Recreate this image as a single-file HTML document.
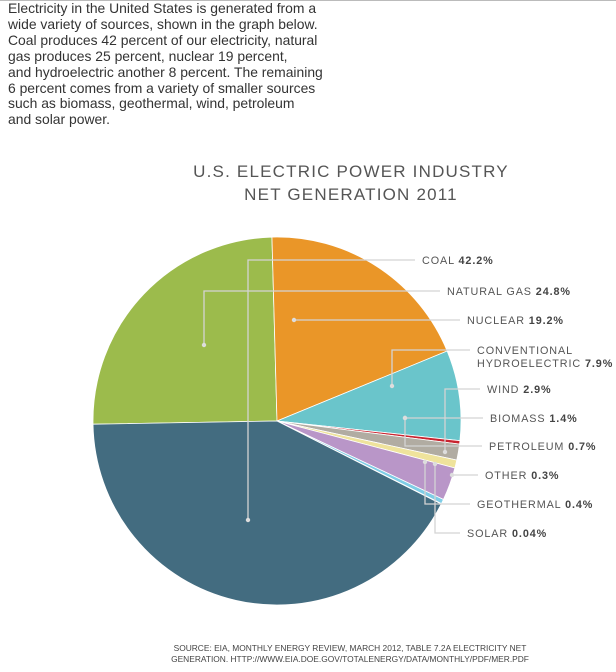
<!DOCTYPE html>
<html><head><meta charset="utf-8"><style>
body{margin:0;background:#fff;width:616px;height:672px;overflow:hidden;font-family:"Liberation Sans",sans-serif;}
#intro{position:absolute;left:8px;top:1px;font-size:13.9px;line-height:15.9px;color:#333;margin:0;}
#topline{position:absolute;left:0;top:0;width:616px;height:1px;background:#bbb;}
</style></head><body>
<div id="topline"></div>
<p id="intro">Electricity in the United States is generated from a<br>wide variety of sources, shown in the graph below.<br>Coal produces 42 percent of our electricity, natural<br>gas produces 25 percent, nuclear 19 percent,<br>and hydroelectric another 8 percent. The remaining<br>6 percent comes from a variety of smaller sources<br>such as biomass, geothermal, wind, petroleum<br>and solar power.</p>
<svg id="chart" width="616" height="672" style="position:absolute;left:0;top:0">
<text x="351" y="177" text-anchor="middle" font-size="17" fill="#555" letter-spacing="1.2">U.S. ELECTRIC POWER INDUSTRY</text>
<text x="351" y="200" text-anchor="middle" font-size="17" fill="#555" letter-spacing="1.2">NET GENERATION 2011</text>
<g id="slices"></g><g id="leaders"></g><g id="labels"></g>
<text x="350" y="651" text-anchor="middle" font-size="8.4" fill="#444">SOURCE: EIA, MONTHLY ENERGY REVIEW, MARCH 2012, TABLE 7.2A ELECTRICITY NET</text>
<text x="350" y="662" text-anchor="middle" font-size="8.4" fill="#444">GENERATION. HTTP://WWW.EIA.DOE.GOV/TOTALENERGY/DATA/MONTHLY/PDF/MER.PDF</text>
</svg>
<script>
const categories=["NATURAL GAS","NUCLEAR","CONVENTIONAL HYDROELECTRIC","OTHER","BIOMASS","PETROLEUM","WIND","GEOTHERMAL","SOLAR","COAL"];
const values=[24.8,19.2,7.9,0.3,1.4,0.7,2.9,0.4,0.04,42.2];
const valueLabels=["24.8%","19.2%","7.9%","0.3%","1.4%","0.7%","2.9%","0.4%","0.04%","42.2%"];
const colors=["#9cbb4c","#ea9628","#6ac5cb","#c8242f","#b1aca2","#efe39c","#b996c8","#7fcde6","#2c9fd4","#436c80"];
const cx=277,cy=421,r=184,startDeg=179;
const NS="http://www.w3.org/2000/svg";
const total=values.reduce((a,b)=>a+b,0);
function ang(v){return v/total*360;}
function pt(deg,rr){const a=deg*Math.PI/180;return [cx+rr*Math.cos(a),cy+rr*Math.sin(a)];}
const sg=document.getElementById('slices');
let a0=startDeg;
values.forEach((v,i)=>{
  const a1=a0+ang(v);const p0=pt(a0,r),p1=pt(a1,r);
  const path=document.createElementNS(NS,'path');
  path.setAttribute('d',`M${cx},${cy}L${p0[0]},${p0[1]}A${r},${r} 0 ${a1-a0>180?1:0} 1 ${p1[0]},${p1[1]}Z`);
  path.setAttribute('fill',colors[i]);path.setAttribute('stroke','#fff');path.setAttribute('stroke-width','0.8');
  
  
  sg.appendChild(path);a0=a1;
});
const lg=document.getElementById('leaders');const lab=document.getElementById('labels');
const leaders={"COAL":[248,520,260,415],"NATURAL GAS":[204,345,291,440],"NUCLEAR":[294,320,320,460],"CONVENTIONAL HYDROELECTRIC":[392,386,350,470],"WIND":[445,452,389,480],"BIOMASS":[405,418,418,483],"PETROLEUM":[405,418,446,482],"OTHER":[452,475,475,478],"GEOTHERMAL":[425,462,504,470],"SOLAR":[435,464,533,460]};
categories.forEach((c,i)=>{
  const L=leaders[c];
  const pl=document.createElementNS(NS,'polyline');
  pl.setAttribute('points',`${L[0]},${L[1]} ${L[0]},${L[2]} ${L[3]},${L[2]}`);
  pl.setAttribute('fill','none');pl.setAttribute('stroke','#d4d4d4');pl.setAttribute('stroke-width','1.3');
  
  
  lg.appendChild(pl);
  const d=document.createElementNS(NS,'circle');d.setAttribute('cx',L[0]);d.setAttribute('cy',L[1]);d.setAttribute('r',2.2);d.setAttribute('fill','#ddd');
  
  
  lg.appendChild(d);
  const t=document.createElementNS(NS,'text');
  t.setAttribute('font-size','10.8');t.setAttribute('fill','#555');t.setAttribute('letter-spacing','0.9');
  
  
  const x=L[3]+7;
  t.setAttribute('x',x);t.setAttribute('y',L[2]+4);
  if(c==="CONVENTIONAL HYDROELECTRIC"){
    t.innerHTML=`<tspan>CONVENTIONAL</tspan><tspan x="${x}" dy="13">HYDROELECTRIC </tspan><tspan font-weight="bold" fill="#444">${valueLabels[i]}</tspan>`;
  } else {
    t.innerHTML=`${c} <tspan font-weight="bold" fill="#444">${valueLabels[i]}</tspan>`;
  }
  lab.appendChild(t);
});
</script>
</body></html>
